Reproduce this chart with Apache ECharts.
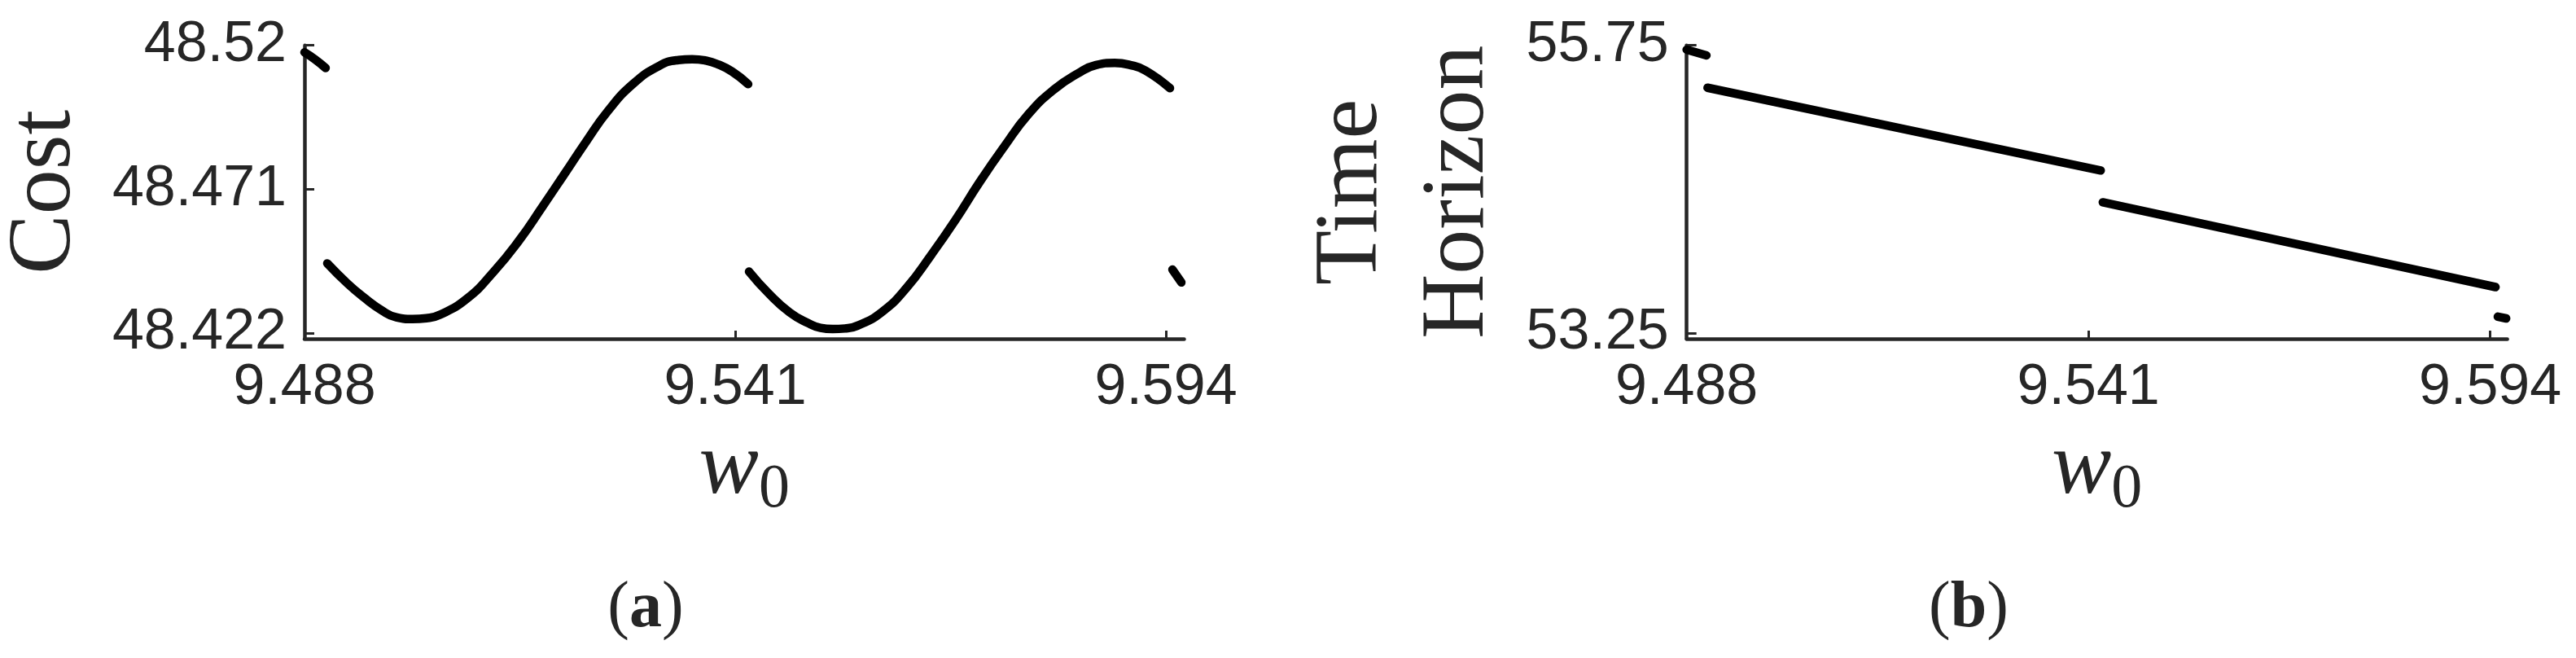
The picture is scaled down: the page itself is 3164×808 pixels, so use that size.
<!DOCTYPE html>
<html>
<head>
<meta charset="utf-8">
<script src="https://cdn.jsdelivr.net/npm/echarts@6/dist/echarts.min.js"></script>
<style>
  html, body { margin: 0; padding: 0; background: #fff; }
  #chart { width: 3164px; height: 808px; }
</style>
</head>
<body>
<div id="chart"></div>
<script>
// tick values
const wTicks = [9.488, 9.541, 9.594];
const costTicks = [48.422, 48.471, 48.52];
const horizonTicks = [53.25, 55.75];

// (a) cost vs w0, one array per continuous piece
const costSeg1 = [[9.4880, 48.5176], [9.4893, 48.5152], [9.4906, 48.5123]];
const costSeg2 = [
  [9.4908, 48.4457], [9.4933, 48.4388], [9.4953, 48.4341], [9.4976, 48.4295],
  [9.4993, 48.4273], [9.5013, 48.4267], [9.5030, 48.4270], [9.5046, 48.4281],
  [9.5080, 48.4337], [9.5113, 48.4429], [9.5143, 48.4531], [9.5173, 48.4651],
  [9.5200, 48.4762], [9.5227, 48.4874], [9.5253, 48.4975], [9.5284, 48.5068],
  [9.5317, 48.5131], [9.5340, 48.5150], [9.5357, 48.5153], [9.5374, 48.5148],
  [9.5389, 48.5135], [9.5406, 48.5111], [9.5426, 48.5068]
];
const costSeg3 = [
  [9.5427, 48.4429], [9.5451, 48.4355], [9.5477, 48.4290], [9.5500, 48.4253],
  [9.5515, 48.4237], [9.5530, 48.4233], [9.5545, 48.4235], [9.5560, 48.4244],
  [9.5590, 48.4290], [9.5621, 48.4374], [9.5651, 48.4485], [9.5681, 48.4605],
  [9.5711, 48.4735], [9.5741, 48.4855], [9.5771, 48.4966], [9.5802, 48.5049],
  [9.5832, 48.5105], [9.5854, 48.5133], [9.5877, 48.5140], [9.5896, 48.5133],
  [9.5915, 48.5114], [9.5945, 48.5054]
];
const costSeg4 = [[9.5948, 48.4436], [9.5959, 48.4392]];

// (b) time horizon vs w0
const horizonSeg1 = [[9.4880, 55.7125], [9.4906, 55.6629]];
const horizonSeg2 = [[9.49075, 55.3817], [9.54262, 54.6630]];
const horizonSeg3 = [[9.54289, 54.3860], [9.59470, 53.6494]];
const horizonSeg4 = [[9.5950, 53.3920], [9.5961, 53.3770]];

const ink = '#262626';
const tickFont = { fontFamily: 'Liberation Sans', fontSize: 70, color: ink };

function xAxisFor(gridIndex) {
  return {
    type: 'value',
    gridIndex: gridIndex,
    min: 9.488,
    max: 9.59625,
    name: '{w|w}{s|0}',
    nameLocation: 'middle',
    nameGap: 96,
    nameTextStyle: {
      rich: {
        w: { fontFamily: 'Liberation Serif', fontStyle: 'italic', fontSize: 110, color: ink, verticalAlign: 'middle' },
        s: { fontFamily: 'Liberation Serif', fontSize: 76, color: ink, padding: [52, 0, 0, 0], verticalAlign: 'middle' }
      }
    },
    axisLine: { onZero: false, lineStyle: { color: ink, width: 4.5 } },
    axisTick: { inside: true, length: 10, lineStyle: { color: ink, width: 3 }, customValues: wTicks },
    axisLabel: Object.assign({ margin: 26, customValues: wTicks }, tickFont),
    splitLine: { show: false }
  };
}

function yAxisFor(gridIndex, min, max, ticks, name, gap, lh) {
  return {
    type: 'value',
    gridIndex: gridIndex,
    min: min,
    max: max,
    name: name,
    nameLocation: 'middle',
    nameGap: gap,
    nameTextStyle: { fontFamily: 'Liberation Serif', fontSize: 110, lineHeight: lh, color: ink },
    axisLine: { show: true, onZero: false, lineStyle: { color: ink, width: 4.5 } },
    axisTick: { show: true, inside: true, length: 12, lineStyle: { color: ink, width: 3 }, customValues: ticks },
    axisLabel: Object.assign({ margin: 22, customValues: ticks }, tickFont),
    splitLine: { show: false }
  };
}

function seg(data, axisIndex) {
  return {
    type: 'line',
    xAxisIndex: axisIndex,
    yAxisIndex: axisIndex,
    data: data,
    smooth: 0.5,
    symbol: 'none',
    clip: false,
    lineStyle: { color: '#000', width: 10.5, cap: 'round', join: 'round' }
  };
}

const chart = echarts.init(document.getElementById('chart'));
chart.setOption({
  animation: false,
  backgroundColor: '#fff',
  grid: [
    { left: 374, top: 55.7, width: 1080.5, height: 360.3, outerBoundsMode: 'none' },
    { left: 2071.7, top: 55.7, width: 1007.9, height: 360.3, outerBoundsMode: 'none' }
  ],
  xAxis: [xAxisFor(0), xAxisFor(1)],
  yAxis: [
    yAxisFor(0, 48.42, 48.52, costTicks, 'Cost', 263, 110),
    yAxisFor(1, 53.2, 55.75, horizonTicks, 'Time\nHorizon', 214, 131)
  ],
  series: [
    seg(costSeg1, 0), seg(costSeg2, 0), seg(costSeg3, 0), seg(costSeg4, 0),
    seg(horizonSeg1, 1), seg(horizonSeg2, 1), seg(horizonSeg3, 1), seg(horizonSeg4, 1)
  ],
  graphic: [
    {
      type: 'text', x: 793, y: 748,
      style: {
        text: '{p|(}{b|a}{p|)}', align: 'center', verticalAlign: 'middle',
        rich: {
          p: { fontFamily: 'Liberation Serif', fontSize: 80, fill: ink },
          b: { fontFamily: 'Liberation Serif', fontWeight: 'bold', fontSize: 80, fill: ink }
        }
      }
    },
    {
      type: 'text', x: 2418, y: 748,
      style: {
        text: '{p|(}{b|b}{p|)}', align: 'center', verticalAlign: 'middle',
        rich: {
          p: { fontFamily: 'Liberation Serif', fontSize: 80, fill: ink },
          b: { fontFamily: 'Liberation Serif', fontWeight: 'bold', fontSize: 80, fill: ink }
        }
      }
    }
  ]
});

window.addEventListener('resize', function () {
  chart.resize();
});
</script>
</body>
</html>
